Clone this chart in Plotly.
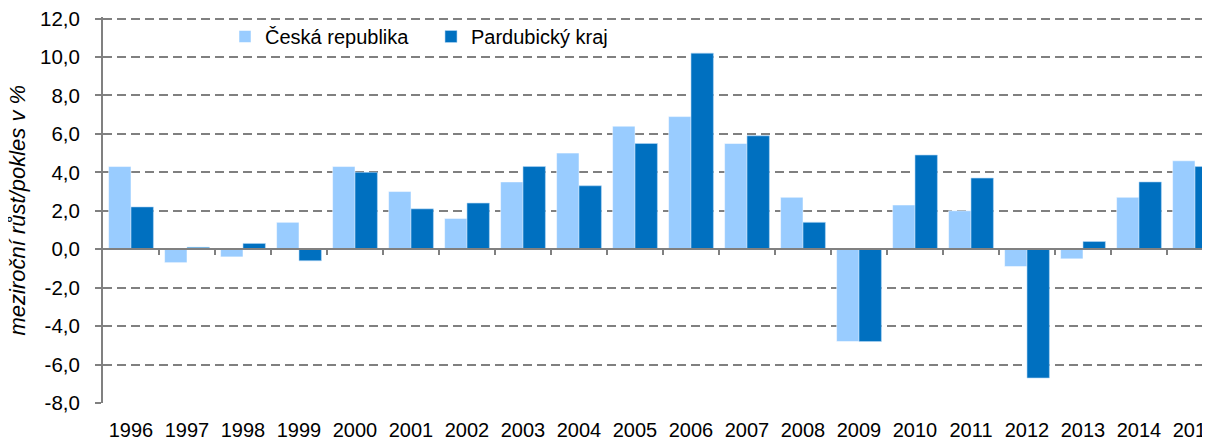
import plotly.graph_objects as go

# ---- data ----
years = ["1996", "1997", "1998", "1999", "2000", "2001", "2002", "2003", "2004", "2005",
         "2006", "2007", "2008", "2009", "2010", "2011", "2012", "2013", "2014", "2015"]
ceska_republika = [4.3, -0.7, -0.4, 1.4, 4.3, 3.0, 1.6, 3.5, 5.0, 6.4,
                   6.9, 5.5, 2.7, -4.8, 2.3, 2.0, -0.9, -0.5, 2.7, 4.6]
pardubicky_kraj = [2.2, 0.1, 0.3, -0.6, 4.0, 2.1, 2.4, 4.3, 3.3, 5.5,
                   10.2, 5.9, 1.4, -4.8, 4.9, 3.7, -6.7, 0.4, 3.5, 4.3]
y_tick_values = [-8, -6, -4, -2, 0, 2, 4, 6, 8, 10, 12]
y_tick_labels = ["-8,0", "-6,0", "-4,0", "-2,0", "0,0", "2,0", "4,0", "6,0", "8,0", "10,0", "12,0"]
series_names = ["Česká republika", "Pardubický kraj"]
y_title = "meziroční růst/pokles v %"

# ---- style ----
FONT = "Arial, 'Liberation Sans', sans-serif"
GRAY = "#808080"
C_LIGHT = "#99CCFF"
C_DARK = "#0070C0"

# page body has an 8px default margin; compensate so the plot lands where the reference has it
OFF = 8
W, H = 1210, 439
px_per_unit = 19.2
y_min, y_max = -8, 12
y_top_pad = 0.08                      # a little headroom so the 12,0 gridline is fully drawn
y_range = [y_min, y_max + y_top_pad]
ML, MR = 103 - OFF, 0
MT = 19 - OFF - y_top_pad * px_per_unit
plot_h = (y_range[1] - y_range[0]) * px_per_unit
MB = H - MT - plot_h
plot_w = W - ML - MR
cat_px = 56.0
x_range = [-0.5, -0.5 + plot_w / cat_px]
boundaries = [i + 0.5 for i in range(len(years))]
zero_frac = (0 - y_range[0]) / (y_range[1] - y_range[0])

fig = go.Figure()
fig.add_trace(go.Bar(x=years, y=ceska_republika, name=series_names[0],
                     marker=dict(color=C_LIGHT, line=dict(color="rgba(255,255,255,0.5)", width=1))))
fig.add_trace(go.Bar(x=years, y=pardubicky_kraj, name=series_names[1],
                     marker=dict(color=C_DARK, line=dict(color="rgba(180,215,245,0.6)", width=1))))
# helper trace for the zero-crossing category axis
fig.add_trace(go.Scatter(x=[], y=[], xaxis="x2", showlegend=False, hoverinfo="skip"))

fig.update_layout(
    width=W, height=H,
    margin=dict(l=ML, r=MR, t=MT, b=MB, pad=0),
    paper_bgcolor="white", plot_bgcolor="white",
    font=dict(family=FONT, size=20, color="black"),
    barmode="group", bargap=0.2, bargroupgap=0.0,
    separators=",.",
    legend=dict(orientation="h", x=(217 - ML) / plot_w, y=1.0, xanchor="left", yanchor="top",
                font=dict(size=20), bgcolor="rgba(0,0,0,0)", itemwidth=30,
                entrywidth=161, entrywidthmode="pixels",
                traceorder="normal"),
    xaxis=dict(type="category", range=x_range, showgrid=False, zeroline=False,
               showline=False, ticks="", ticklabelstandoff=13,
               ticklabeloverflow="allow", tickfont=dict(size=20)),
    xaxis2=dict(overlaying="x", anchor="free", position=zero_frac, side="bottom",
                range=x_range, showgrid=False, zeroline=False,
                showline=True, linecolor=GRAY, linewidth=2,
                ticks="outside", ticklen=5, tickwidth=2, tickcolor=GRAY,
                tickvals=boundaries, showticklabels=False, layer="above traces"),
    yaxis=dict(range=y_range, tickvals=y_tick_values, ticktext=y_tick_labels,
               showgrid=True, gridcolor=GRAY, gridwidth=2, griddash="9px,5px",
               zeroline=False, showline=True, linecolor=GRAY, linewidth=2,
               ticks="outside", ticklen=6, tickwidth=2, tickcolor=GRAY,
               ticklabelstandoff=11, ticklabeloverflow="allow",
               tickfont=dict(size=20.5)),
    annotations=[dict(text="<i>" + y_title + "</i>", xref="paper", yref="paper",
                      x=(18 - OFF - ML) / plot_w, y=zero_frac + 0.1 * 0 + (211 - 249.6) / -plot_h,
                      xanchor="center", yanchor="middle",
                      textangle=-90, showarrow=False,
                      font=dict(size=22, family=FONT, color="black"))],
)

fig.write_html("out.html", config={"displayModeBar": False})
